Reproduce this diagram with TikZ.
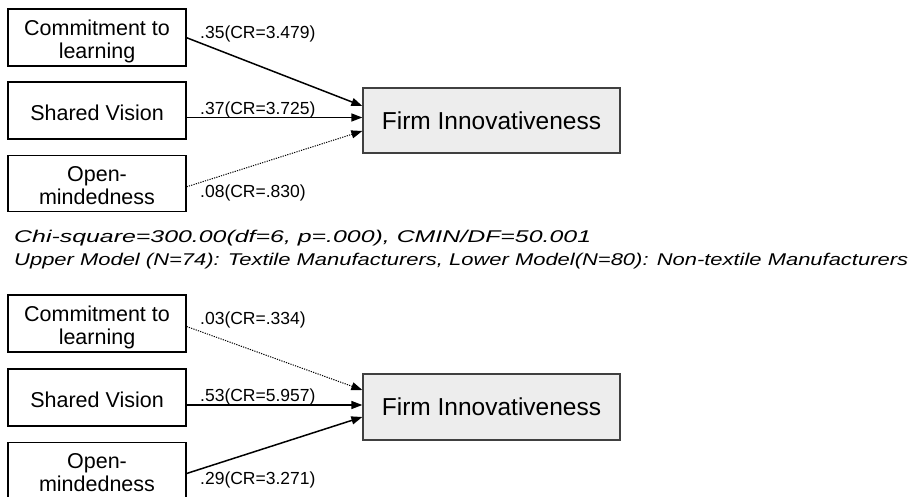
\documentclass[tikz,border=0pt]{standalone}
\usepackage{fontspec}
\setmainfont{Liberation Sans}
\usetikzlibrary{arrows.meta,calc}
\definecolor{boxgray}{HTML}{EDEDED}
\definecolor{edgegray}{HTML}{404040}
\begin{document}
\begin{tikzpicture}[x=1pt,y=-1pt,
  var/.style={draw=black,line width=1.2pt,minimum width=178pt,minimum height=57pt,inner sep=0pt},
  vartext/.style={align=center,inner sep=0pt,font=\fontsize{21.5}{23}\selectfont},
  outcome/.style={draw=edgegray,fill=boxgray,line width=1.3pt,minimum width=257pt,
    minimum height=65pt,inner sep=0pt,font=\fontsize{24.5}{28}\selectfont},
  path/.style={line width=1.5pt,-{Triangle[length=11pt,width=8pt]}},
  weak/.style={line width=1pt,dash pattern=on 1.2pt off 1.2pt,
    -{Triangle[length=11pt,width=8pt]}},
  coef/.style={anchor=base west,inner sep=0pt,font=\fontsize{17.5}{20}\selectfont},
  note/.style={anchor=base west,inner sep=0pt,font=\fontsize{17}{20}\selectfont\itshape}
]
\useasboundingbox (0,0) rectangle (916,497);

% upper model
\node[var,label={[vartext,yshift=-3.5pt]center:{Commitment to\\learning}}] (c1) at (97,37.5) {};
\node[var,label={[vartext,yshift=-2pt]center:Shared Vision}] (v1) at (97,110.5) {};
\node[var,minimum height=56pt,label={[vartext,yshift=-2pt]center:{Open-\\mindedness}}] (o1) at (97,183.3) {};
\node[outcome] (f1) at (491.5,120.5) {Firm Innovativeness};

\draw[path] ($(c1.east)+(0,0.2)$) -- ($(f1.west)+(0,-14.5)$);
\draw[path] ($(v1.east)+(0,7)$) -- ($(f1.west)+(0,-3)$);
\draw[weak] ($(o1.east)+(0,3.5)$) -- ($(f1.west)+(0,10.5)$);

\node[coef] (l1) at (200,39) {.35(CR=3.479)};
\node[coef] (l2) at (200,114.5) {.37(CR=3.725)};
\node[coef] (l3) at (200,198) {.08(CR=.830)};

% fit statistics
\node[note] (n1) at (14,242.5) {\resizebox{577pt}{\height}{Chi-square=300.00(df=6, p=.000), CMIN/DF=50.001}};
\node[note] (n2) at (14,265.5) {\resizebox{894pt}{\height}{Upper Model (N=74): Textile Manufacturers, Lower Model(N=80): Non-textile Manufacturers}};

% lower model
\node[var,label={[vartext,yshift=-3.5pt]center:{Commitment to\\learning}}] (c2) at (97,323.5) {};
\node[var,label={[vartext,yshift=-2pt]center:Shared Vision}] (v2) at (97,397.5) {};
\node[var,minimum height=56pt,label={[vartext,yshift=-2pt]center:{Open-\\mindedness}}] (o2) at (97,470.5) {};
\node[outcome,minimum height=66pt] (f2) at (491.5,407) {Firm Innovativeness};

\draw[weak] ($(c2.east)+(0,3)$) -- ($(f2.west)+(0,-17)$);
\draw[path] ($(v2.east)+(0,7.5)$) -- ($(f2.west)+(0,-2)$);
\draw[path] ($(o2.east)+(0,3)$) -- ($(f2.west)+(0,10)$);

\node[coef] (l4) at (200,324.5) {.03(CR=.334)};
\node[coef] (l5) at (200,401) {.53(CR=5.957)};
\node[coef] (l6) at (200,484) {.29(CR=3.271)};
\end{tikzpicture}
\end{document}
